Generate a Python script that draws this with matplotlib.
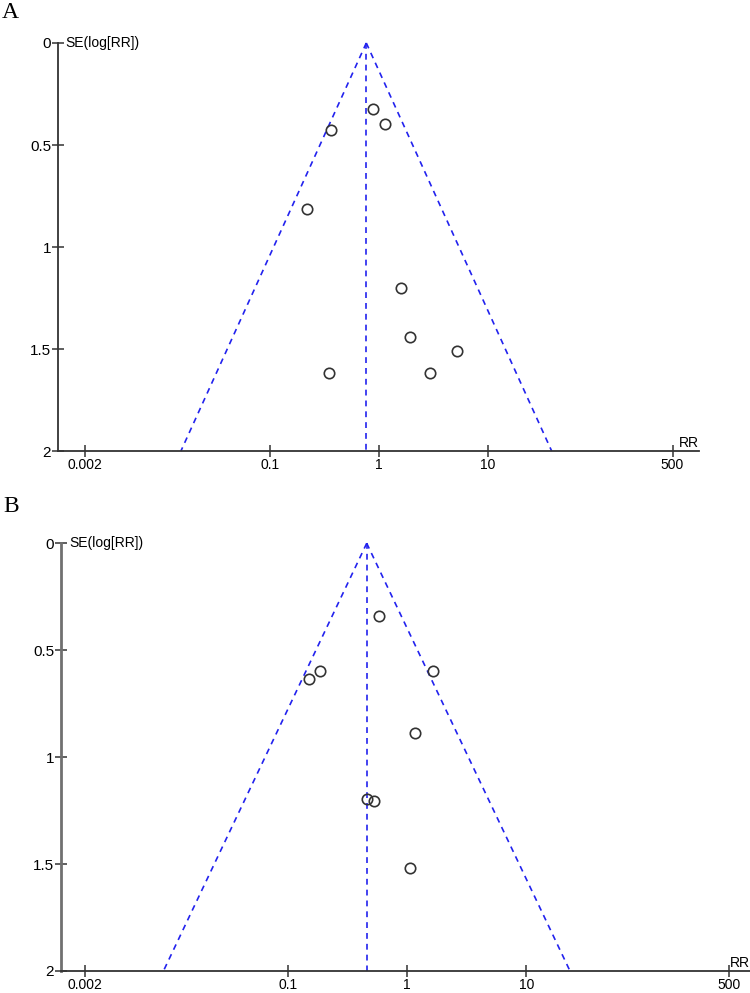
import numpy as np
import matplotlib
matplotlib.use("Agg")
import matplotlib.pyplot as plt

# panel A: study estimates (RR) and standard errors of log RR
rr_a = [0.88, 1.15, 0.365, 0.222, 1.59, 1.94, 5.28, 2.94, 0.347]
se_a = [0.324, 0.396, 0.427, 0.814, 1.202, 1.441, 1.508, 1.619, 1.617]
pooled_a = 0.77

# panel B
rr_b = [0.583, 0.187, 0.151, 1.66, 1.16, 0.465, 0.53, 1.05]
se_b = [0.341, 0.597, 0.636, 0.597, 0.886, 1.197, 1.205, 1.52]
pooled_b = 0.46

xticks = [0.002, 0.1, 1, 10, 500]
xticklabels = ["0.002", "0.1", "1", "10", "500"]
yticks = [0, 0.5, 1, 1.5, 2]
yticklabels = ["0", "0.5", "1", "1.5", "2"]

plt.rcParams["font.family"] = ["Liberation Sans", "DejaVu Sans"]

fig = plt.figure(figsize=(7.5, 9.93), dpi=100)


def funnel(ax, rr, se, pooled, xlim, axcol, ylw):
    se_line = np.array([0, 2.0])
    dash = (0, (3.5, 3))
    ax.plot(pooled * np.exp(-1.96 * se_line), se_line, color="#2222ee",
            lw=1.2, ls=dash, clip_on=False)
    ax.plot(pooled * np.exp(1.96 * se_line), se_line, color="#2222ee",
            lw=1.2, ls=dash, clip_on=False)
    ax.plot([pooled, pooled], [0, 2], color="#2222ee", lw=1.2,
            ls=dash, clip_on=False)
    ax.plot(rr, se, "o", mfc="none", mec="#333333", mew=1.2, ms=7.5,
            clip_on=False)

    ax.set_xscale("log")
    ax.set_xlim(*xlim)
    ax.set_ylim(2, 0)
    ax.set_xticks(xticks)
    ax.set_xticklabels(xticklabels)
    ax.xaxis.set_minor_locator(matplotlib.ticker.NullLocator())
    ax.set_yticks(yticks)
    ax.set_yticklabels(yticklabels)

    for s in ["top", "right"]:
        ax.spines[s].set_visible(False)
    ax.spines["left"].set_color(axcol)
    ax.spines["left"].set_linewidth(ylw)
    ax.spines["bottom"].set_color("#333333")
    ax.spines["bottom"].set_linewidth(1.3)
    ax.tick_params(axis="x", direction="inout", length=8, width=1.1,
                   color="#333333", labelsize=10, pad=1)
    ax.tick_params(axis="y", direction="inout", length=8, width=1.1,
                   color="#333333", labelsize=11, pad=1)

    ax.text(0.012, 1.0, "SE(log[RR])", transform=ax.transAxes,
            fontsize=10, ha="left", va="center")
    ax.text(1.0, 0.003, "RR", transform=ax.transAxes, fontsize=10,
            ha="right", va="bottom")


ax_a = fig.add_axes([0.0773, 0.5458, 0.855, 0.4109])
funnel(ax_a, rr_a, se_a, pooled_a, (10 ** -2.945, 10 ** 2.944),
       "#333333", 1.3)

ax_b = fig.add_axes([0.0813, 0.0222, 0.9187, 0.4307])
funnel(ax_b, rr_b, se_b, pooled_b, (10 ** -2.898, 10 ** 2.873),
       "#707070", 2.0)

fig.text(0.003, 0.987, "A", family="Liberation Serif", fontsize=17,
         ha="left", va="center")
fig.text(0.004, 0.490, "B", family="Liberation Serif", fontsize=17,
         ha="left", va="center")

fig.savefig("out.png", dpi=100, facecolor="white")
